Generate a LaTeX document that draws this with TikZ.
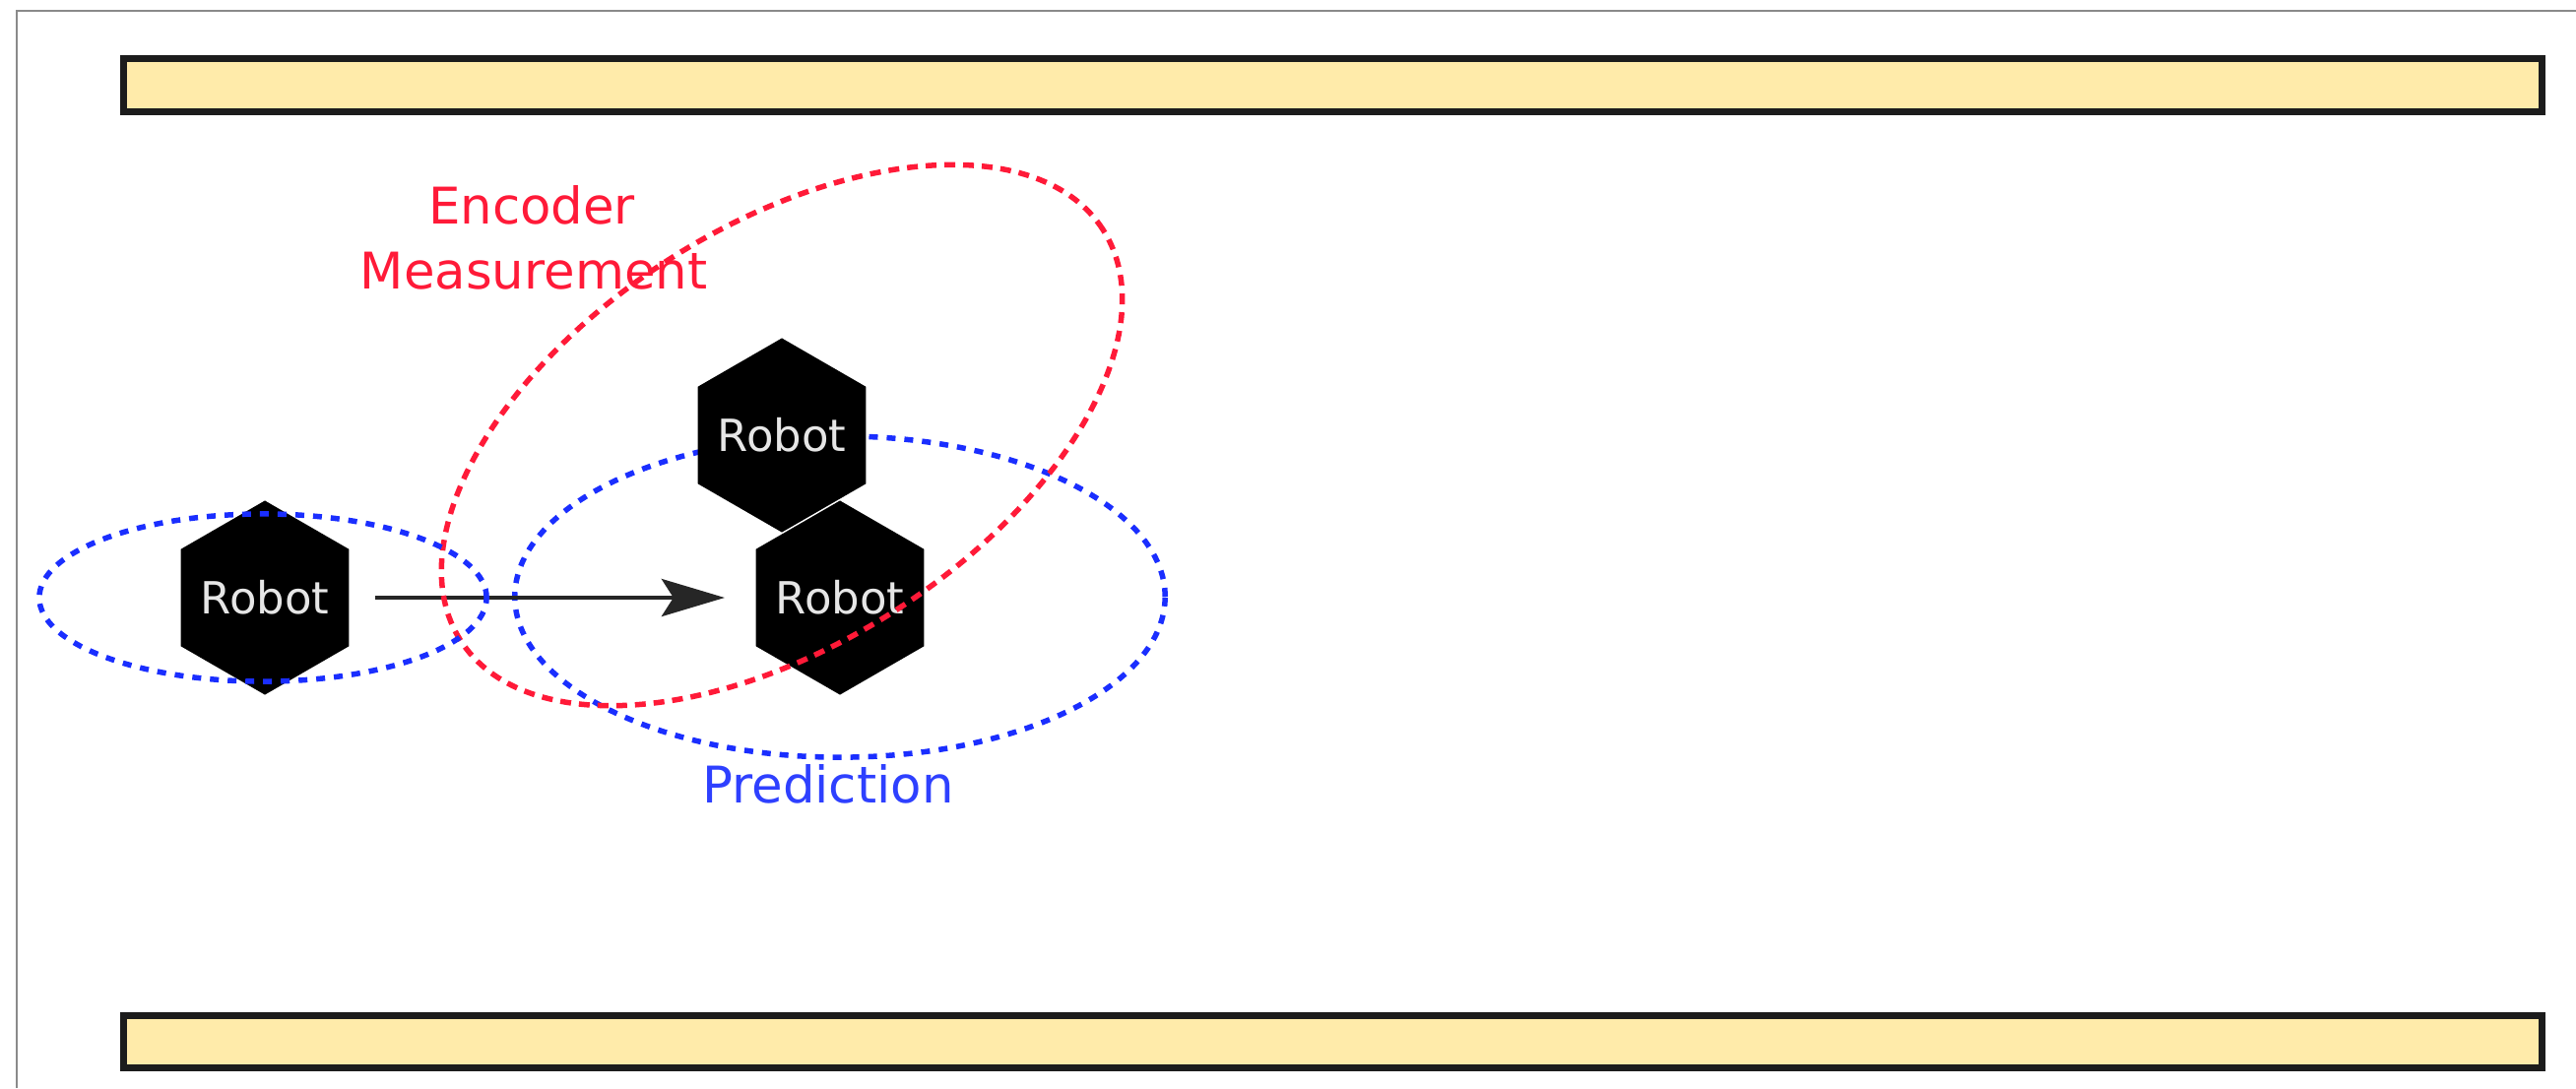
\documentclass[tikz,border=0pt]{standalone}
\usepackage{fontspec}
\setmainfont{DejaVu Sans}
\usetikzlibrary{shapes.geometric,arrows.meta}

\definecolor{wallfill}{HTML}{FFEBAA}
\definecolor{wallline}{HTML}{1C1C1C}
\definecolor{measred}{HTML}{FF1A38}
\definecolor{predblue}{HTML}{1A2EFF}
\definecolor{predtext}{HTML}{2E40FF}
\definecolor{robottext}{HTML}{E6E6E6}
\definecolor{framegray}{HTML}{8A8A8A}

\begin{document}
\begin{tikzpicture}[x=0.01cm,y=-0.01cm,
  robot/.style={regular polygon, regular polygon sides=6, shape border rotate=30,
    fill=black, minimum size=1.97cm, inner sep=0pt,
    label={[text=robottext, inner sep=0pt, font=\fontsize{12.8}{15}\selectfont]center:#1}},
  wall/.style={draw=wallline, fill=wallfill, line width=0.07cm},
  redcov/.style={draw=measred, line width=0.055cm, dash pattern=on 0.11cm off 0.08cm},
  bluecov/.style={draw=predblue, line width=0.055cm, dash pattern=on 0.09cm off 0.09cm},
  lbl/.style={anchor=base, inner sep=0pt, font=\fontsize{14.6}{18}\selectfont},
  move/.style={draw=black!85, line width=0.045cm,
    -{Stealth[length=0.64cm,width=0.38cm,inset=0.12cm]}}
]
\useasboundingbox (0,0) rectangle (2616,1105);

% page frame
\draw[framegray, line width=0.02cm] (17,1105) -- (17,10.5) -- (2616,10.5);

% corridor walls
\draw[wall] (125.5,59.5) rectangle (2581.5,113.5);
\draw[wall] (125.5,1031.5) rectangle (2581.5,1084.5);

% prediction uncertainty around the new pose (behind the robots)
\draw[bluecov] (853,606) ellipse [x radius=3.30cm, y radius=1.63cm];

% robot poses
\node[robot=Robot] (r0) at (269,607) {};
\node[robot=Robot] (rm) at (794,442) {};
\node[robot=Robot] (rp) at (853,607) {};

% motion
\draw[move, shorten <=0.26cm, shorten >=0.31cm] (r0) -- (rp);

% encoder measurement uncertainty
\draw[redcov, rotate around={32.6:(794,442)}] (794,442) ellipse [x radius=3.87cm, y radius=2.12cm];

% initial uncertainty
\draw[bluecov] (267,607) ellipse [x radius=2.27cm, y radius=0.85cm];

% labels
\node[lbl, text=measred] (enc) at (540,227) {Encoder};
\node[lbl, text=measred] (meas) at (542,293) {Measurement};
\node[lbl, text=predtext] (pred) at (841,815) {Prediction};
\end{tikzpicture}
\end{document}
